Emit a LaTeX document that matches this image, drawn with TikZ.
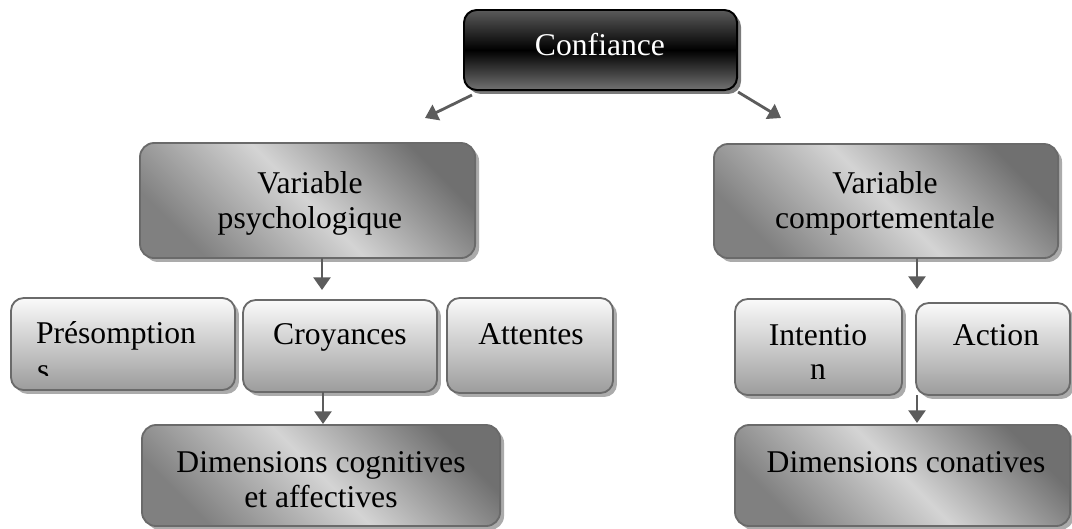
\documentclass[tikz,border=0pt]{standalone}
\usepackage{fontspec}
\setmainfont{Liberation Serif}
\usetikzlibrary{arrows.meta,shadows}
\definecolor{arrowgray}{HTML}{5C5C5C}
\definecolor{bordergray}{HTML}{6A6A6A}
\definecolor{shadowlight}{HTML}{ABABAB}
\definecolor{shadowdark}{HTML}{7A7A7A}
\definecolor{gdarkA}{HTML}{808080}
\definecolor{glight}{HTML}{D4D4D4}
\definecolor{gdarkB}{HTML}{707070}
\definecolor{stop}{HTML}{FAFAFA}
\definecolor{sbot}{HTML}{9C9C9C}
\definecolor{ctop}{HTML}{5A5A5A}
\definecolor{cbot}{HTML}{727272}
\tikzset{
  every node/.style={inner sep=0pt, outer sep=0pt},
  conn/.style={draw=arrowgray, line width=2pt, -{Triangle[width=12pt,length=9pt]}},
  bigbox/.style={draw=bordergray, line width=1.3pt, rounded corners=10pt, anchor=north west,
     left color=gdarkA, right color=gdarkB, middle color=glight, shading angle=135,
     drop shadow={shadow xshift=2.8pt, shadow yshift=-2.8pt, fill=shadowlight, opacity=1}},
  smallbox/.style={draw=bordergray, line width=1.3pt, rounded corners=9pt, anchor=north west,
     top color=stop, bottom color=sbot,
     drop shadow={shadow xshift=2.8pt, shadow yshift=-2.8pt, fill=shadowlight, opacity=1}},
  topbox/.style={draw=black, line width=1.4pt, rounded corners=9pt, anchor=north west,
     top color=ctop, bottom color=cbot, middle color=black,
     drop shadow={shadow xshift=2.8pt, shadow yshift=-2.8pt, fill=shadowdark, opacity=1}},
  lbl/.style={font=\fontsize{22.5}{24.5}\selectfont, align=center, text=black},
}
\begin{document}
\begin{tikzpicture}[x=0.025cm, y=-0.025cm]
\useasboundingbox (0,0) rectangle (1072,528);
% boxes
\node[topbox, minimum width=6.825cm, minimum height=2.0cm] (conf) at (464,10) {};
\node[bigbox, minimum width=8.375cm, minimum height=2.875cm] (vp) at (140,143) {};
\node[bigbox, minimum width=8.6cm, minimum height=2.85cm] (vc) at (714,144) {};
\node[smallbox, minimum width=5.6cm, minimum height=2.3cm] (pres) at (11,298) {};
\node[smallbox, minimum width=4.85cm, minimum height=2.3cm] (croy) at (243,300) {};
\node[smallbox, minimum width=4.15cm, minimum height=2.375cm] (att) at (447,298) {};
\node[smallbox, minimum width=4.175cm, minimum height=2.4cm] (int) at (735,299) {};
\node[smallbox, minimum width=3.85cm, minimum height=2.3cm] (act) at (916,303) {};
\node[bigbox, minimum width=8.95cm, minimum height=2.525cm] (dcog) at (142,425) {};
\node[bigbox, minimum width=8.375cm, minimum height=2.525cm] (dcon) at (735,425) {};
% texts
\node[lbl, text=white, anchor=base] (tconf) at (600,55) {Confiance};
\node[lbl] (tvp) at (310,203.5) {Variable\\psychologique};
\node[lbl] (tvc) at (885,203.5) {Variable\\comportementale};
\node[lbl, anchor=base west] (tpres) at (36,343) {Présomption};
\begin{scope}
  \clip (30,360) rectangle (60,375);
  \node[lbl, anchor=base west] (tpres2) at (37,380) {s};
\end{scope}
\node[lbl, anchor=base] (tcroy) at (340,344) {Croyances};
\node[lbl, anchor=base] (tatt) at (531,344) {Attentes};
\node[lbl] (tint) at (818,352) {Intentio\\n};
\node[lbl, anchor=base] (tact) at (996,345) {Action};
\node[lbl] (tdcog) at (321,479.5) {Dimensions cognitives\\et affectives};
\node[lbl, anchor=base] (tdcon) at (906,472) {Dimensions conatives};
% connector ends
\coordinate (lt) at (425,118);
\coordinate (rt) at (781,118);
\coordinate (a1) at (322,290);
\coordinate (a2) at (323,424);
\coordinate (a3) at (917,289);
\coordinate (a4) at (917,423);
% connectors
\draw[conn] ([shift={(8,5)}]conf.south west) -- (lt);
\draw[conn] ([shift={(1,2)}]conf.south east) -- (rt);
\draw[conn] (vp.south -| a1) -- (a1);
\draw[conn] (croy.south -| a2) -- (a2);
\draw[conn] (vc.south -| a3) -- (a3);
\draw[conn] (int.south -| a4) -- (a4);
\end{tikzpicture}
\end{document}
